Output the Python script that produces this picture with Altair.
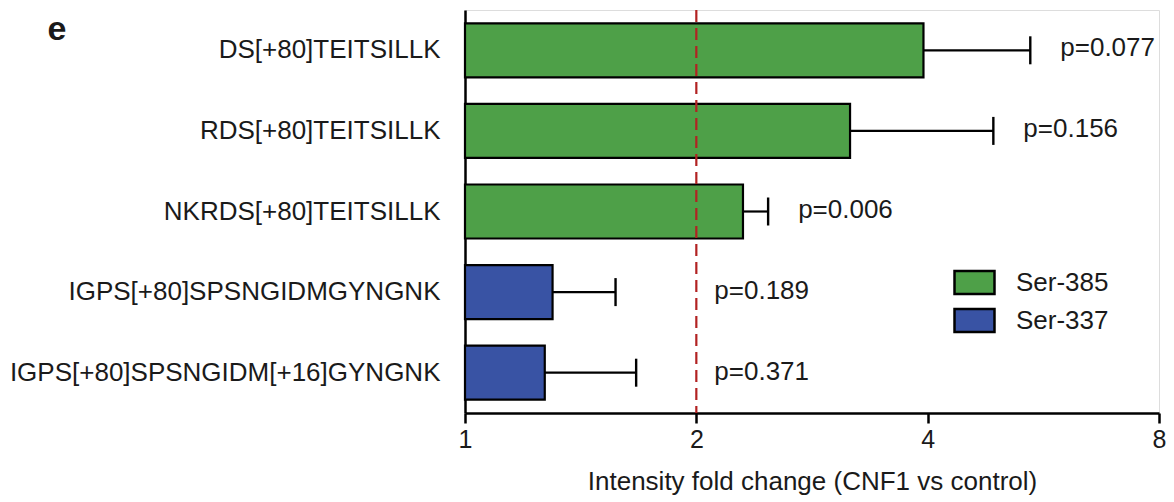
import altair as alt
import pandas as pd

# ---- data ----
peptides = ["DS[+80]TEITSILLK", "RDS[+80]TEITSILLK", "NKRDS[+80]TEITSILLK",
            "IGPS[+80]SPSNGIDMGYNGNK", "IGPS[+80]SPSNGIDM[+16]GYNGNK"]
fold = [3.95, 3.17, 2.30, 1.30, 1.27]
err_hi = [5.44, 4.87, 2.48, 1.57, 1.67]
site = ["Ser-385", "Ser-385", "Ser-385", "Ser-337", "Ser-337"]
pvals = ["p=0.077", "p=0.156", "p=0.006", "p=0.189", "p=0.371"]
x_ticks = [1, 2, 4, 8]
reference = [2]
sites = ["Ser-385", "Ser-337"]
colors = ["#4ea048", "#3953a4"]
panel = ["e"]

df = pd.DataFrame({"peptide": peptides, "fold": fold, "err_hi": err_hi,
                   "site": site, "p": pvals})
ref_df = pd.DataFrame({"ref": reference})
panel_df = pd.DataFrame({"label": panel})

FONT = "Liberation Sans"
TXT = "#1a1a1a"

xscale = alt.Scale(type="log", base=2, domain=[1, 8], nice=False)
yscale = alt.Scale(paddingInner=0.33, paddingOuter=0.165)

x_axis = alt.Axis(values=x_ticks, format="d", grid=False, tickSize=10, tickWidth=2.5,
                  tickColor="black", domainColor="black", domainWidth=2.5,
                  labelFontSize=25, labelColor=TXT, labelPadding=4, labelFont=FONT,
                  labelFlush=False,
                  title="Intensity fold change (CNF1 vs control)", titleFontSize=26,
                  titleFontWeight="normal", titleColor=TXT, titlePadding=16, titleFont=FONT)
y_axis = alt.Axis(title=None, ticks=False, labelPadding=25, domainColor="black",
                  domainWidth=2.5, labelFontSize=26, labelColor=TXT, labelLimit=0,
                  labelFont=FONT)

Y = alt.Y("peptide:N", sort=peptides, scale=yscale, axis=y_axis)

legend = alt.Legend(title=None, orient="none", legendX=493, legendY=256, padding=0,
                    symbolType="M-1.333,-0.767H1.333V0.767H-1.333Z", symbolSize=900,
                    symbolStrokeColor="black", symbolStrokeWidth=2.5, symbolOpacity=1,
                    labelFontSize=26, labelColor=TXT, labelFont=FONT, labelOffset=25,
                    rowPadding=3)

bars = alt.Chart(df).mark_bar(stroke="black", strokeWidth=2.2, opacity=1).encode(
    x=alt.X("fold:Q", scale=xscale, axis=x_axis),
    x2=alt.datum(1),
    y=Y,
    color=alt.Color("site:N", scale=alt.Scale(domain=sites, range=colors), legend=legend),
)

err_line = alt.Chart(df).mark_rule(color="black", strokeWidth=2.2).encode(
    x=alt.X("fold:Q", scale=xscale), x2="err_hi:Q", y=Y)

err_cap = alt.Chart(df).mark_tick(color="black", thickness=2.4, size=28, opacity=1).encode(
    x=alt.X("err_hi:Q", scale=xscale), y=Y)

ref_rule = alt.Chart(ref_df).mark_rule(color="#b22222", strokeWidth=2.2,
                                       strokeDash=[12, 6]).encode(
    x=alt.X("ref:Q", scale=xscale))

p_green = alt.Chart(df).transform_filter(alt.datum.site == "Ser-385").mark_text(
    align="left", baseline="middle", dx=30, dy=-2, fontSize=26, color=TXT, font=FONT
).encode(x=alt.X("err_hi:Q", scale=xscale), y=Y, text="p:N")

p_blue = alt.Chart(df).transform_filter(alt.datum.site == "Ser-337").transform_calculate(
    at=str(reference[0])
).mark_text(
    align="left", baseline="middle", dx=18, dy=-1, fontSize=26, color=TXT, font=FONT
).encode(x=alt.X("at:Q", scale=xscale), y=Y, text="p:N")

panel_label = alt.Chart(panel_df).mark_text(
    align="center", baseline="alphabetic", fontSize=34, fontWeight="bold",
    color=TXT, font=FONT
).encode(x=alt.value(-408), y=alt.value(30), text="label:N")

chart = alt.layer(bars, err_line, err_cap, ref_rule, p_green, p_blue, panel_label).properties(
    width=694, height=403,
    autosize=alt.AutoSizeParams(type="none"),
    padding={"left": 457, "top": 2, "right": 7, "bottom": 82},
).configure_view(stroke=None).configure(background="white")

chart.save("out.html", embed_options={"renderer": "svg", "actions": False})
